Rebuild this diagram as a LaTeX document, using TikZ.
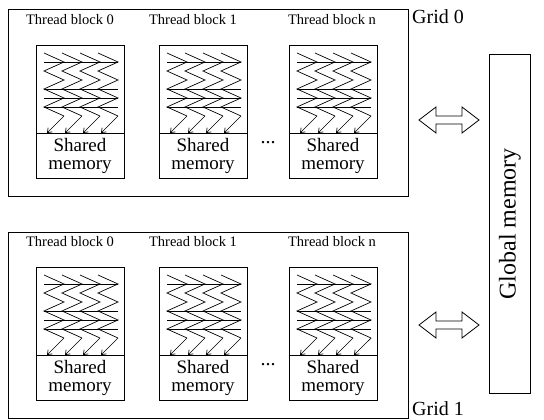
\documentclass[tikz,border=0pt]{standalone}
\usepackage{fontspec}
\setmainfont{Liberation Serif}
\usetikzlibrary{arrows.meta}
\begin{document}
\begin{tikzpicture}[x=1pt,y=-1pt,
  gridbox/.style={draw, line width=1pt, inner sep=0pt, outer sep=0pt},
  blockbox/.style={draw, line width=0.8pt, inner sep=0pt, outer sep=0pt},
  smbox/.style={draw, line width=0.8pt, inner sep=0pt, outer sep=0pt, align=center,
    font=\fontsize{19}{19}\selectfont},
  lbl/.style={font=\fontsize{14.5}{14.5}\selectfont, inner sep=0pt},
  glbl/.style={font=\fontsize{20}{20}\selectfont, inner sep=0pt, anchor=west},
  thr/.style={line width=0.7pt},
  thrarrow/.style={line width=0.7pt, -{Straight Barb[length=4pt,width=6pt]}},
  dblarrow/.style={line width=0.8pt, line join=miter}]
\useasboundingbox (0,0) rectangle (544,420);

\foreach \gy/\gi in {0/0, 222/1} {
  \node[gridbox, anchor=north west, minimum width=400pt, minimum height=186pt] (grid\gi) at (8,10+\gy) {};
  \foreach \bx/\bl/\lx in {36/0/70, 159/1/193, 289/n/332} {
    \node[blockbox, anchor=north west, minimum width=88pt, minimum height=133pt] (blk\gi\bl) at (\bx,45+\gy) {};
    \node[smbox, anchor=south west, minimum width=88pt, minimum height=45pt] (sm\gi\bl) at (blk\gi\bl.south west) {Shared\\[-1pt]memory};
    \node[lbl] (lab\gi\bl) at (\lx,20+\gy) {Thread block \bl};
    \begin{scope}[shift={(\bx,45+\gy)}]
      \foreach \i in {0,1,2,3} {
        \pgfmathsetmacro\xa{8+18*\i}
        \pgfmathsetmacro\xb{\xa+20}
        \draw[thr] (\xa,8) -- (\xb,17) -- (\xa,26) -- (\xb,35) -- (\xa,44) -- (\xb,53) -- (\xa,62) -- (\xb,71);
        \draw[thrarrow] (\xb,71) -- (\xa+3,88);
      }
      \foreach \h in {17,44,53,62} {
        \draw[thr] (8,\h) -- (82,\h);
      }
    \end{scope}
  }
  \node[font=\fontsize{20}{20}\selectfont, inner sep=0pt] (dots\gi) at (268,143+\gy) {...};
}

\node[glbl] (gl0) at (412,17) {Grid 0};
\node[glbl] (gl1) at (412,409) {Grid 1};

\node[draw, line width=0.8pt, anchor=north west, minimum width=41pt, minimum height=339pt, inner sep=0pt] (gm) at (489,54) {};
\node[rotate=90, font=\fontsize{24}{24}\selectfont, inner sep=0pt] (gmtext) at (gm.center) {Global memory};

\coordinate (ar0) at (449,120);
\coordinate (ar1) at (449,325);
\foreach \a in {ar0, ar1} {
  \draw[dblarrow] (\a) ++(-30,0) -- ++(17,-13) -- ++(0,9) -- ++(26,0) -- ++(0,-9) -- ++(17,13)
    -- ++(-17,13) -- ++(0,-9) -- ++(-26,0) -- ++(0,9) -- cycle;
}
\end{tikzpicture}
\end{document}
